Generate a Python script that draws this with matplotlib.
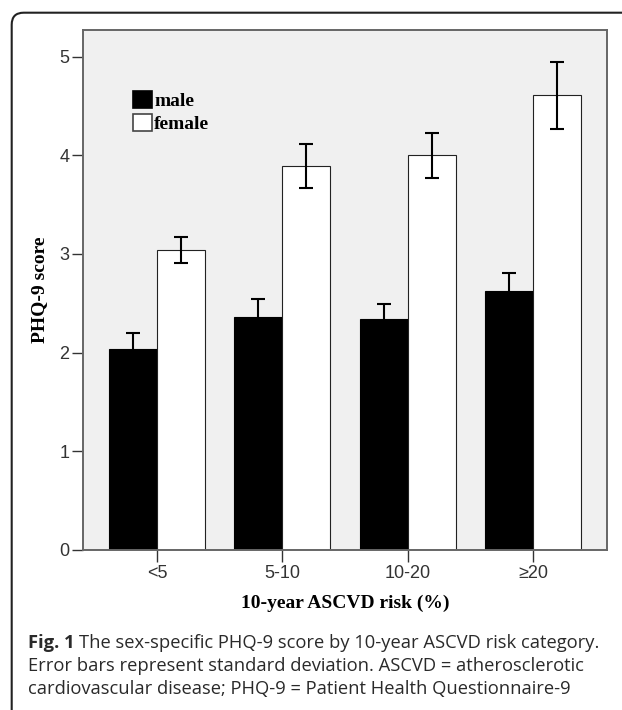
import matplotlib
matplotlib.use("Agg")
import matplotlib.pyplot as plt
import numpy as np
from matplotlib.patches import FancyBboxPatch, Patch
from matplotlib.transforms import IdentityTransform

categories = ["<5", "5-10", "10-20", "\u226520"]
male_mean = [2.04, 2.365, 2.34, 2.62]
male_sd = [0.16, 0.175, 0.15, 0.19]
female_mean = [3.04, 3.89, 4.00, 4.61]
female_sd = [0.135, 0.225, 0.225, 0.34]
yticks = [0, 1, 2, 3, 4, 5]

W, H = 622, 710
fig = plt.figure(figsize=(W / 100, H / 100), dpi=100)

# figure border (rounded), in display pixels (origin bottom-left)
border = FancyBboxPatch((11.7, -40), 700, (H - 12.7) + 40,
                        boxstyle="round,pad=0,rounding_size=12",
                        transform=IdentityTransform(), fill=False,
                        edgecolor="#222222", linewidth=1.5, clip_on=False)
fig.patches.append(border)

ax = fig.add_axes([82.7 / W, 1 - 550 / H, (607 - 82.7) / W, 520 / H])
ax.set_facecolor("#f0f0f0")

x = np.arange(len(categories))
bw = 0.383
err_kw = dict(ecolor="black", elinewidth=1.5, capsize=4.7, capthick=1.5)
ax.bar(x - bw / 2, male_mean, width=bw, color="black", edgecolor="black",
       linewidth=0.8, yerr=male_sd, error_kw=err_kw, zorder=2, label="male")
ax.bar(x + bw / 2, female_mean, width=bw, color="white", edgecolor="#222222",
       linewidth=0.8, yerr=female_sd, error_kw=err_kw, zorder=2, label="female")

ax.set_xlim(-0.593, 3.59)
ax.set_ylim(0, 5.27)
ax.set_yticks(yticks)
ax.set_xticks(x)
ax.set_xticklabels(categories)

for lab in ax.get_xticklabels() + ax.get_yticklabels():
    lab.set_fontfamily(["Liberation Sans", "DejaVu Sans"])
    lab.set_fontsize(13)
    lab.set_color("#333333")
ax.tick_params(axis="y", direction="out", length=8, width=1.0, color="#333333", pad=1.5)
ax.tick_params(axis="x", direction="out", length=8.5, width=1.0, color="#333333", pad=2)

for s in ax.spines.values():
    s.set_color("#666666")
    s.set_linewidth(1.4)

serif = ["Liberation Serif", "DejaVu Serif"]
ax.set_xlabel("10-year ASCVD risk (%)", fontfamily=serif, fontweight="bold", fontsize=14)
ax.xaxis.set_label_coords(0.5, (550 - 603) / 520)
ax.xaxis.label.set_va("center")
ax.set_ylabel("PHQ-9 score", fontfamily=serif, fontweight="bold", fontsize=14)
ax.yaxis.set_label_coords((40 - 82.7) / 524.3, 0.5)
ax.yaxis.label.set_va("center")

handles = [Patch(facecolor="black", edgecolor="black", linewidth=1.2),
           Patch(facecolor="white", edgecolor="#444444", linewidth=1.2)]
leg = ax.legend(handles, ["male", "female"], loc="upper left",
                bbox_to_anchor=((132.7 - 82.7) / 524.3, (550 - 91) / 520),
                frameon=False, borderpad=0, borderaxespad=0,
                handlelength=1.0, handleheight=0.94, handletextpad=0.1,
                labelspacing=0.2, prop=dict(family=serif, weight="bold", size=14))

# caption
capfont = ["Open Sans", "DejaVu Sans"]
fs = 13.2
x0 = 28 / W
capcol = "#2a2a2a"
t1 = fig.text(x0, 1 - 648 / H, "Fig. 1", fontfamily=capfont, fontweight="bold",
              fontsize=fs, va="baseline", ha="left", color=capcol)
fig.canvas.draw()
r = fig.canvas.get_renderer()
bb = t1.get_window_extent(r)
fig.text(bb.x1 / W + 4 / W, 1 - 648 / H,
         "The sex-specific PHQ-9 score by 10-year ASCVD risk category.",
         fontfamily=capfont, fontsize=fs, va="baseline", ha="left", color=capcol)
fig.text(x0, 1 - 671 / H,
         "Error bars represent standard deviation. ASCVD = atherosclerotic",
         fontfamily=capfont, fontsize=fs, va="baseline", ha="left", color=capcol)
fig.text(x0, 1 - 694 / H,
         "cardiovascular disease; PHQ-9 = Patient Health Questionnaire-9",
         fontfamily=capfont, fontsize=fs, va="baseline", ha="left", color=capcol)

fig.savefig("out.png", dpi=100)
